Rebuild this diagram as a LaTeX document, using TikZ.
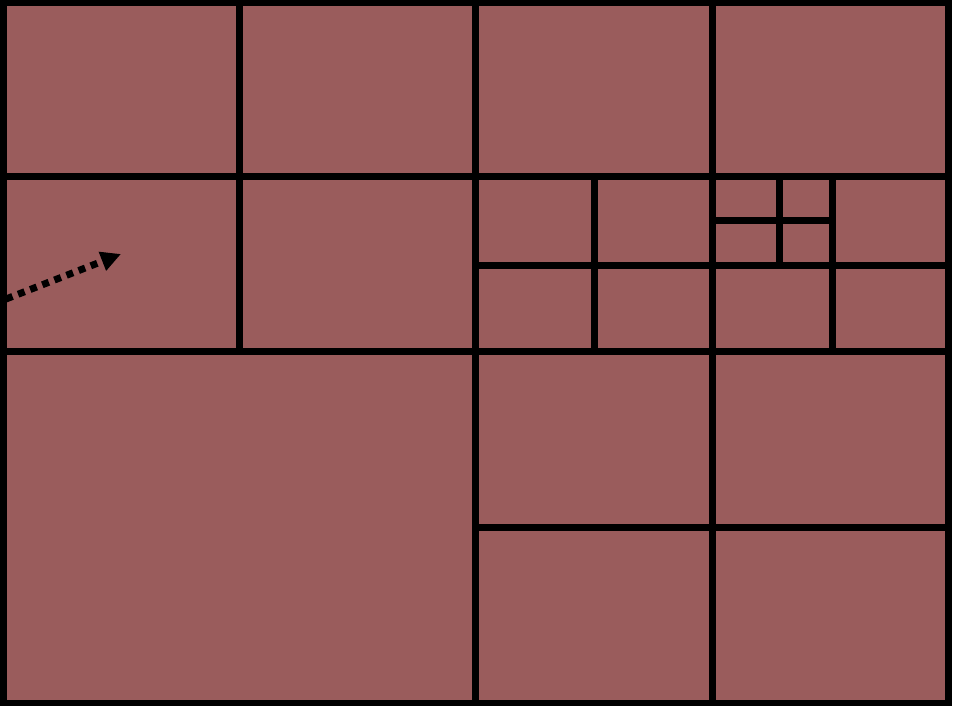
\documentclass[tikz,border=0pt]{standalone}
\usepackage{xcolor}
\usetikzlibrary{arrows.meta}
\definecolor{tile}{RGB}{154,92,92}

\begin{document}
\begin{tikzpicture}[x=1pt,y=-1pt,line width=7pt,
  cut/.style={draw=black},
  pointer/.style={dash pattern=on 7pt off 6pt,line width=7pt,-{Triangle[length=20pt,width=19pt]}}]
  \useasboundingbox (0,0) rectangle (954,706);
  \fill[tile] (3,3) rectangle (948,703);
  % first level
  \draw[cut] (3,3) rectangle (948,703);
  \draw[cut] (3,177)--(948,177); \draw[cut] (3,351)--(948,351);
  \draw[cut] (239,3)--(239,351); \draw[cut] (475,3)--(475,703);
  \draw[cut] (712,3)--(712,703); \draw[cut] (475,527)--(948,527);
  % finer cells
  \draw[cut] (475,265)--(948,265);
  \draw[cut] (594,177)--(594,351); \draw[cut] (832,177)--(832,351);
  \draw[cut] (779,177)--(779,265); \draw[cut] (712,221)--(832,221);
  % arrow
  \coordinate (tail) at (6,299); \coordinate (head) at (121,254);
  \draw[pointer] (tail)--(head);
\end{tikzpicture}
\end{document}
